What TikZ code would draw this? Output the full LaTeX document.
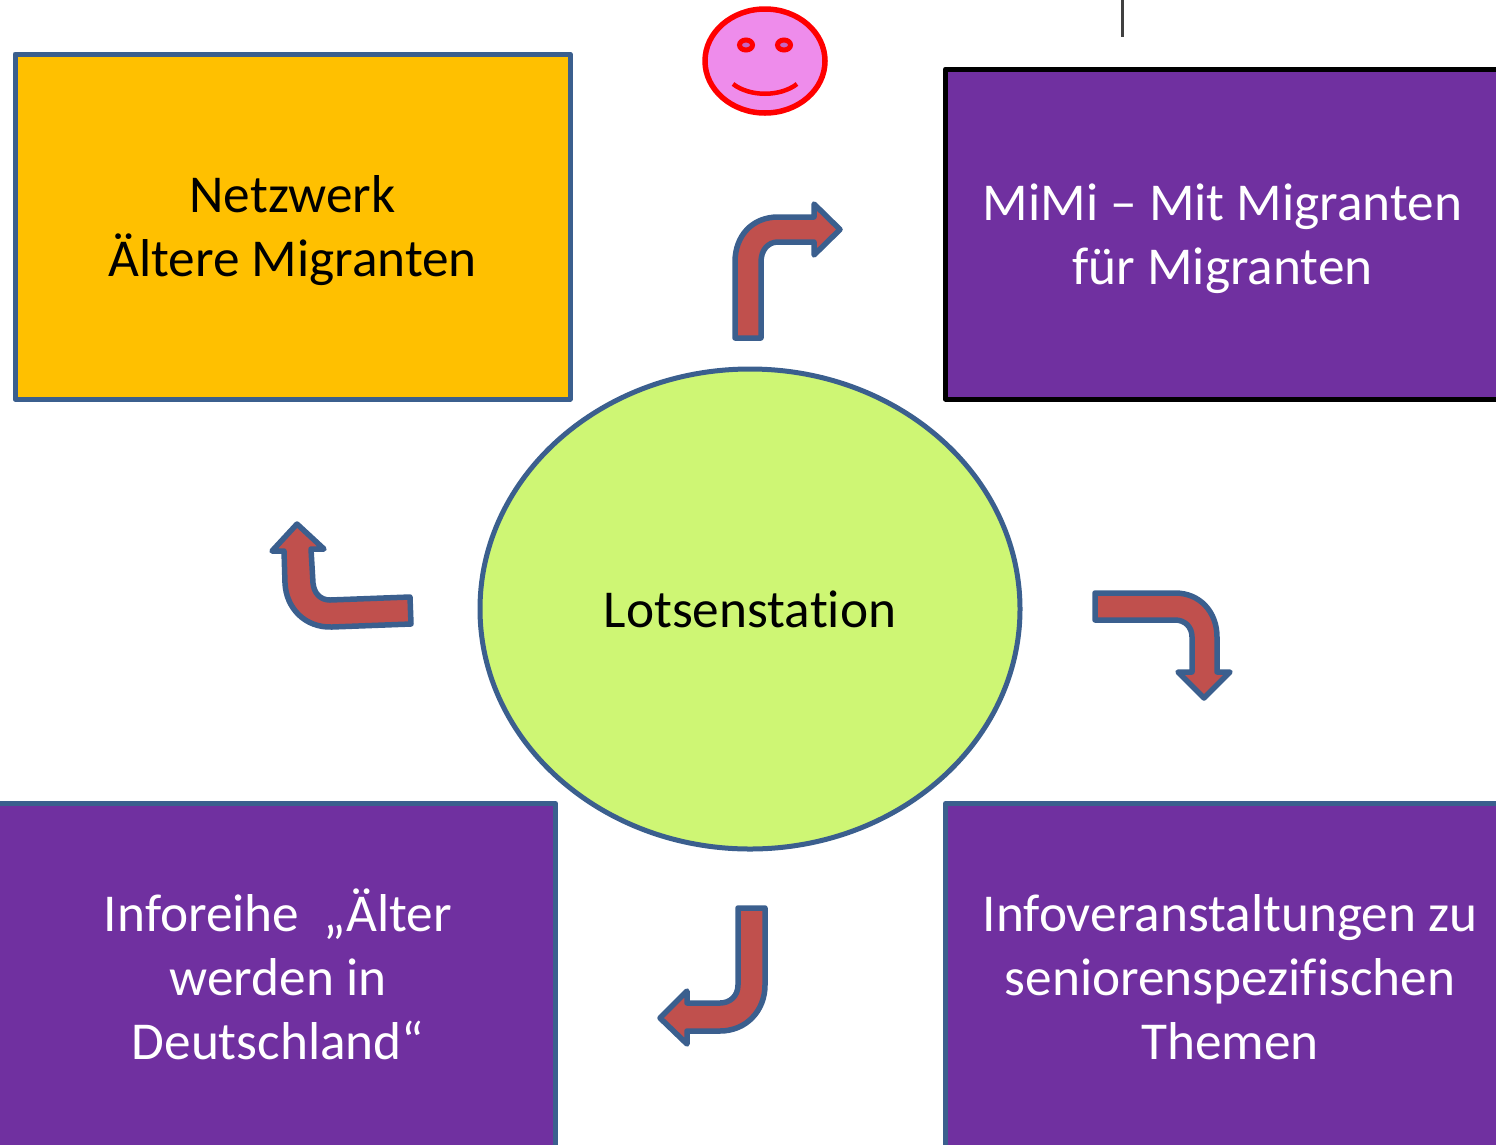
\documentclass[tikz,border=0pt]{standalone}
\usepackage{fontspec}
\setmainfont[Ligatures=NoCommon]{Carlito}
\definecolor{edgeblue}{HTML}{3B5F8E}
\definecolor{arrowred}{HTML}{C0504D}
\definecolor{boxyellow}{HTML}{FFC000}
\definecolor{boxpurple}{HTML}{7030A0}
\definecolor{circgreen}{HTML}{CEF674}
\definecolor{facepink}{HTML}{EE8CEB}
\definecolor{eyepink}{HTML}{C466C4}
\tikzset{
  boxshape/.style={line width=5pt,line join=round},
  turnarrow/.style={draw=edgeblue,fill=arrowred,line width=5.5pt,line join=round},
  lbl/.style={align=center,font=\fontsize{53.3}{64}\selectfont,inner sep=0pt},
  facestroke/.style={draw=red,line width=5.5pt}
}
\begin{document}
\begin{tikzpicture}[x=1pt,y=-1pt]
\useasboundingbox (0,0) rectangle (1496,1144);
\clip (0,0) rectangle (1496,1144);
% boxes
\path[boxshape,draw=edgeblue,fill=boxyellow] (15,54) rectangle (570,399);
\path[boxshape,draw=black,fill=boxpurple] (945.5,69) rectangle (1510,399);
\path[boxshape,draw=edgeblue,fill=boxpurple] (-10,803.5) rectangle (555.5,1160);
\path[boxshape,draw=edgeblue,fill=boxpurple] (945.5,803.5) rectangle (1510,1160);
% centre
\path[draw=edgeblue,fill=circgreen,line width=5pt] (750,609) ellipse [x radius=270,y radius=240];
% tick
\draw[black!75,line width=2.5pt] (1122.5,0) -- (1122.5,37);
% smiley
\path[facestroke,fill=facepink] (765,61) ellipse [x radius=60,y radius=52];
\path[facestroke,fill=eyepink,line width=5pt] (746,45) ellipse [x radius=6.5,y radius=5];
\path[facestroke,fill=eyepink,line width=5pt] (784,45) ellipse [x radius=6.5,y radius=5];
\draw[red,line width=4.5pt] (733,84) .. controls (750,97) and (780,97) .. (797,84);
% arrows
\path[turnarrow] (735,338) -- (735,262) .. controls (735,236) and (752,217) .. (778,217) -- (814,217) -- (814,204) -- (840,229.5) -- (814,255) -- (814,242) -- (778,242) .. controls (768,242) and (761,250) .. (761,262) -- (761,338) -- cycle;
\path[turnarrow] (1095,593) -- (1175,593) .. controls (1200,593) and (1217,612) .. (1217,637) -- (1217,672) -- (1230,672) -- (1204,698) -- (1178,672) -- (1192,672) -- (1192,637) .. controls (1192,627) and (1185,620) .. (1175,620) -- (1095,620) -- cycle;
\path[turnarrow] (765,908) -- (765,985) .. controls (765,1011) and (746,1031) .. (720,1031) -- (687,1031) -- (687,1044) -- (660,1018) -- (687,991) -- (687,1003) -- (720,1003) .. controls (730,1003) and (738,996) .. (738,985) -- (738,908) -- cycle;
\path[turnarrow] (410,597) -- (411,624) -- (332,627) .. controls (305,628) and (286,608) .. (285,583) -- (284,551) -- (272,551) -- (297,524) -- (324,549) -- (311,549) -- (313,583) .. controls (314,593) and (320,600) .. (330,600) -- cycle;
% labels
\node[lbl,text=black] (net) at (292.5,231) {Netzwerk\\Ältere Migranten};
\node[lbl,text=white] (mimi) at (1222.5,239) {MiMi – Mit Migranten\\für Migranten};
\node[lbl,text=black] (lots) at (750,609) {Lotsenstation};
\node[lbl,text=white] (info) at (278,974) {Inforeihe~ „Älter\\werden in\\Deutschland“};
\node[lbl,text=white] (veran) at (1230,977) {Infoveranstaltungen zu\\seniorenspezifischen\\Themen};
\end{tikzpicture}
\end{document}
